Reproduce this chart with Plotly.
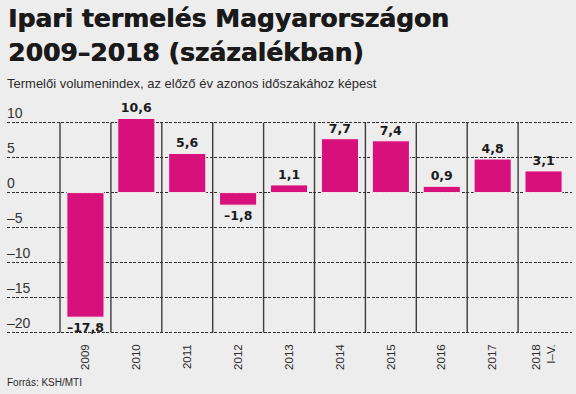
import plotly.graph_objects as go

# ---- data ----
years = ["2009", "2010", "2011", "2012", "2013", "2014", "2015", "2016", "2017", "2018<br>I–V."]
values = [-17.8, 10.6, 5.6, -1.8, 1.1, 7.7, 7.4, 0.9, 4.8, 3.1]
y_ticks = [10, 5, 0, -5, -10, -15, -20]
y_tick_labels = ["10", "5", "0", "–5", "–10", "–15", "–20"]

labels = [f"{v:.1f}".replace(".", ",").replace("-", "–") for v in values]
xs = list(range(len(values)))

W, H = 576, 394
BG = "#eeeded"
BAR = "#d7107b"
TXT = "#1a1a1a"

# layout geometry (pixels)
plot_left, plot_right = 7, 572
plot_top, plot_bottom = 100, 336
zero_px, px_per_unit = 192.6, 7.0
first_boundary_px, cat_px = 60, 50.9

y_range = [-(plot_bottom - zero_px) / px_per_unit, (zero_px - plot_top) / px_per_unit]
x_range = [-0.5 - (first_boundary_px - plot_left) / cat_px,
           -0.5 + (plot_right - first_boundary_px) / cat_px]


def paper_y(px):
    return (plot_bottom - px) / (plot_bottom - plot_top)


fig = go.Figure()
fig.add_trace(go.Bar(
    x=xs, y=values, width=0.73,
    marker=dict(color=BAR, line=dict(color="#f6f4f4", width=1)),
    text=labels, textposition="outside", cliponaxis=False,
    textfont=dict(family="DejaVu Sans", size=12.5, color=TXT, weight="bold"),
    hoverinfo="skip",
))

shapes = []
for i in range(len(values)):
    shapes.append(dict(type="line", xref="x", yref="y", x0=i - 0.5, x1=i - 0.5,
                       y0=min(y_ticks), y1=max(y_ticks),
                       line=dict(color="#3c3c3c", width=1.4), layer="below"))

title_font = dict(family="DejaVu Sans", size=25, color=TXT, weight="bold",
                  shadow="0.6px 0px 0px #1a1a1a")
annotations = [
    dict(text="Ipari termelés Magyarországon", x=0, xref="paper", xanchor="left",
         y=paper_y(18.6), yref="paper", yanchor="middle", showarrow=False,
         font=title_font, xshift=-1),
    dict(text="2009–2018 (százalékban)", x=0, xref="paper", xanchor="left",
         y=paper_y(52.0), yref="paper", yanchor="middle", showarrow=False,
         font=title_font, xshift=-1),
    dict(text="Termelői volumenindex, az előző év azonos időszakához képest", x=0, xref="paper",
         xanchor="left", y=paper_y(83.2), yref="paper", yanchor="middle", showarrow=False,
         font=dict(family="Liberation Sans", size=13, color="#2a2a2a"), xshift=-2),
    dict(text="Forrás: KSH/MTI", x=0, xref="paper", xanchor="left",
         y=paper_y(382.5), yref="paper", yanchor="middle", showarrow=False,
         font=dict(family="Liberation Sans", size=10, color="#2a2a2a"), xshift=-2),
]

fig.update_layout(
    width=W, height=H,
    margin=dict(l=plot_left, r=W - plot_right, t=plot_top, b=H - plot_bottom, pad=0),
    paper_bgcolor=BG, plot_bgcolor=BG,
    showlegend=False, bargap=0,
    shapes=shapes, annotations=annotations,
    xaxis=dict(range=x_range, tickvals=xs, ticktext=years, tickangle=-90,
               showgrid=False, zeroline=False, showline=False, ticks="",
               ticklabelstandoff=5, automargin=False,
               tickfont=dict(family="Liberation Sans", size=11.5, color="#2a2a2a")),
    yaxis=dict(range=y_range, tickvals=y_ticks, ticktext=y_tick_labels,
               showgrid=True, gridcolor="#2e2e2e", gridwidth=1, griddash="3px,1.5px",
               zeroline=False, showline=False, ticks="", automargin=False,
               ticklabelposition="inside top", ticklabelstandoff=-3,
               tickfont=dict(family="Liberation Sans", size=14, color="#333333")),
)

fig.write_html(
    "out.html",
    config={"displayModeBar": False, "staticPlot": True},
    post_script="document.body.style.margin='0';document.body.style.background='" + BG + "';"
                "document.body.style.overflow='hidden';",
)
